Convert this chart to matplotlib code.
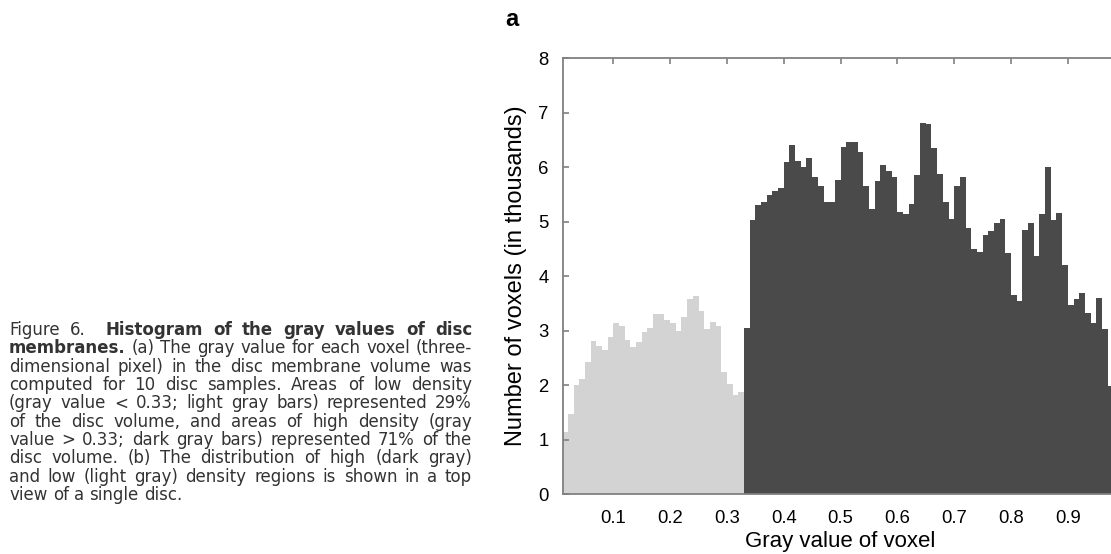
import matplotlib
matplotlib.use('Agg')
import matplotlib.pyplot as plt
import numpy as np

# Histogram counts (thousands), bins of width 0.01 starting at 0.01
bin_width = 0.01
low_counts = [1.15, 1.47, 2.00, 2.11, 2.42, 2.81, 2.72, 2.65, 2.89, 3.14, 3.08, 2.84,
              2.70, 2.80, 2.98, 3.06, 3.31, 3.31, 3.20, 3.15, 3.00, 3.26, 3.59, 3.63,
              3.37, 3.03, 3.16, 3.08, 2.25, 2.02, 1.83, 1.88]
high_counts = [3.06, 5.03, 5.30, 5.36, 5.50, 5.57, 5.62, 6.09, 6.41, 6.12, 6.00, 6.17,
               5.82, 5.65, 5.36, 5.36, 5.76, 6.37, 6.47, 6.47, 6.28, 5.65, 5.24, 5.74,
               6.04, 5.93, 5.82, 5.18, 5.14, 5.33, 5.86, 6.82, 6.80, 6.35, 5.88, 5.36,
               5.06, 5.65, 5.83, 4.89, 4.50, 4.45, 4.75, 4.83, 4.98, 5.06, 4.42, 3.66,
               3.54, 4.85, 4.97, 4.38, 5.15, 6.00, 5.03, 5.17, 4.20, 3.47, 3.58, 3.69,
               3.33, 3.14, 3.61, 3.03, 1.99]
low_start = 0.01
high_start = 0.33

x_ticks = [0.1, 0.2, 0.3, 0.4, 0.5, 0.6, 0.7, 0.8, 0.9]
y_ticks = [0, 1, 2, 3, 4, 5, 6, 7, 8]

caption_lines = [
    [("Figure", False), ("6.", False), ("", False), ("Histogram", True), ("of", True), ("the", True),
     ("gray", True), ("values", True), ("of", True), ("disc", True)],
    [("membranes.", True)] + [(w, False) for w in "(a) The gray value for each voxel (three-".split()],
    [(w, False) for w in "dimensional pixel) in the disc membrane volume was".split()],
    [(w, False) for w in "computed for 10 disc samples. Areas of low density".split()],
    [(w, False) for w in "(gray value < 0.33; light gray bars) represented 29%".split()],
    [(w, False) for w in "of the disc volume, and areas of high density (gray".split()],
    [(w, False) for w in "value > 0.33; dark gray bars) represented 71% of the".split()],
    [(w, False) for w in "disc volume. (b) The distribution of high (dark gray)".split()],
    [(w, False) for w in "and low (light gray) density regions is shown in a top".split()],
    [(w, False) for w in "view of a single disc.".split()],
]

W, H = 1111, 554
fig = plt.figure(figsize=(W / 100, H / 100), dpi=100)
plt.rcParams['font.family'] = ['Liberation Sans', 'DejaVu Sans']

ax = fig.add_axes([563.3 / W, 1 - 494.3 / H, 1 - 563.3 / W, 436.0 / H])
low_x = low_start + bin_width * np.arange(len(low_counts))
high_x = high_start + bin_width * np.arange(len(high_counts))
ax.bar(low_x, low_counts, width=bin_width, align='edge', color='#d3d3d3', linewidth=0)
ax.bar(high_x, high_counts, width=bin_width, align='edge', color='#4a4a4a', linewidth=0)

ax.set_xlim(0.012, 0.976)
ax.set_ylim(0, 8)
ax.set_xticks(x_ticks)
ax.set_xticklabels([f'{t:.1f}' for t in x_ticks])
ax.set_yticks(y_ticks)
spine_color = '#808080'
for side in ['left', 'top', 'bottom']:
    ax.spines[side].set_color(spine_color)
    ax.spines[side].set_linewidth(1.3)
ax.spines['right'].set_visible(False)
ax.tick_params(axis='x', bottom=False, top=True, labelbottom=True, direction='in',
               length=4, width=1.2, color=spine_color, pad=11, labelsize=13.3)
ax.tick_params(axis='y', left=True, right=False, direction='in',
               length=4, width=1.2, color=spine_color, pad=10.5, labelsize=13.3)

fig.text(516 / W, 1 - 276 / H, 'Number of voxels (in thousands)', rotation=90,
         ha='center', va='center', fontsize=17)
fig.text(840 / W, 1 - 541 / H, 'Gray value of voxel', ha='center', va='center', fontsize=16)
fig.text(512 / W, 1 - 20 / H, 'a', ha='center', va='center', fontsize=17, fontweight='bold')

# Justified caption
renderer = fig.canvas.get_renderer()
cap_left, cap_right = 9, 472
line0, line_step = 330, 18.33
cap_font = ['DejaVu Sans']
cap_size = 12
cap_color = '#333333'
for i, line in enumerate(caption_lines):
    y = 1 - (line0 + i * line_step) / H
    items = []
    for word, bold in line:
        if word == "":
            items.append(None)
            continue
        t = fig.text(0, y, word, ha='left', va='center', fontsize=cap_size, family=cap_font,
                     fontweight='bold' if bold else 'normal', color=cap_color)
        items.append(t)
    words = [t for t in items if t is not None]
    widths = [t.get_window_extent(renderer).width for t in words]
    n_gaps = len(items) - 1
    if i == len(caption_lines) - 1:
        gap = 0.32 * cap_size * 100 / 72
    else:
        gap = (cap_right - cap_left - sum(widths)) / n_gaps
    x = cap_left
    k = 0
    for t in items:
        if t is None:
            x += gap
            continue
        t.set_x(x / W)
        x += widths[k] + gap
        k += 1

fig.savefig('out.png', dpi=100)
